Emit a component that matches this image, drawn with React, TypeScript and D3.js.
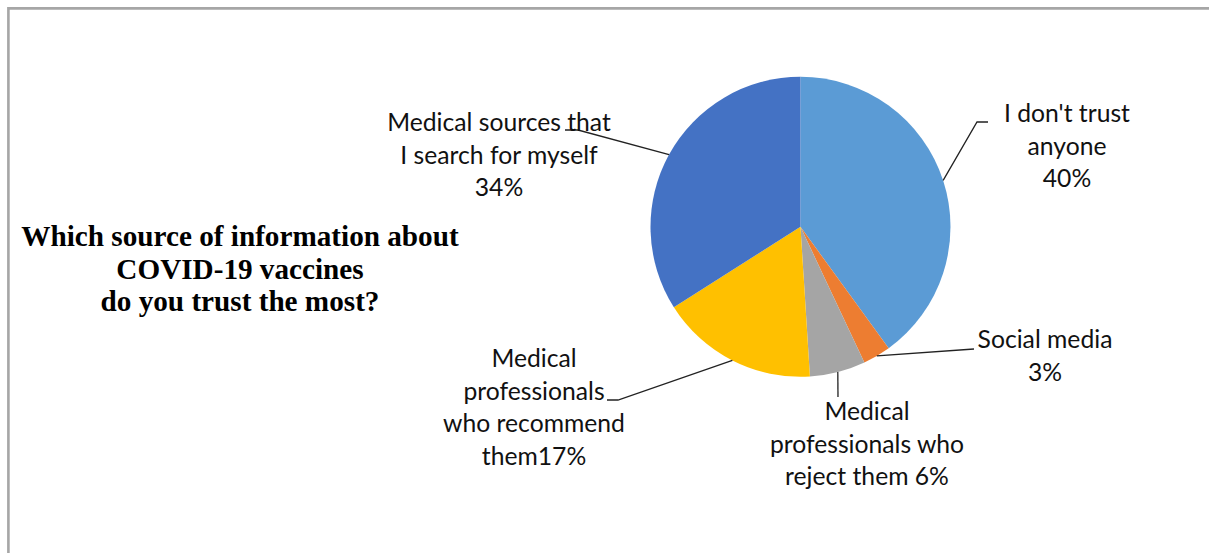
import React from "react";
import * as d3 from "d3";

const categories = [
  "I don't trust anyone",
  "Social media",
  "Medical professionals who reject them",
  "Medical professionals who recommend them",
  "Medical sources that I search for myself",
];
const values = [40, 3, 6, 17, 34];
const colors = ["#5B9BD5", "#ED7D31", "#A5A5A5", "#FFC000", "#4472C4"];
const labelLines = [
  ["I don't trust", "anyone", "40%"],
  ["Social media", "3%"],
  ["Medical", "professionals who", "reject them 6%"],
  ["Medical", "professionals", "who recommend", "them17%"],
  ["Medical sources that", "I search for myself", "34%"],
];
const titleLines = [
  "Which source of information about",
  "COVID-19 vaccines",
  "do you trust the most?",
];

// label layout (center x, first baseline y) and leader polylines as pixel anchors
const labelPos: [number, number][] = [
  [1067, 122],
  [1045, 348],
  [867, 420],
  [534, 367],
  [499, 131],
];
const leaderEnds: [number, number][][] = [
  [[977, 122], [988, 122]],
  [[974, 349]],
  [[838, 397]],
  [[618, 400], [607, 400]],
  [[578, 130], [565, 130]],
];

export default function App() {
  const W = 1209, H = 553;
  const cx = 800.5, cy = 226.8, r = 150;
  const pie = d3.pie<number>().sort(null).value((d) => d)(values);
  const arc = d3.arc<d3.PieArcDatum<number>>().innerRadius(0).outerRadius(r);
  const lineGen = d3.line();
  const fontLabel = "Lato, 'Open Sans', sans-serif";

  return (
    <svg
      width={W}
      height={H}
      style={{ position: "absolute", left: 0, top: 0, background: "#fff" }}
    >
      <rect x={0} y={0} width={W} height={H} fill="#fff" />
      <path d={`M8.4,${H} L8.4,8.4 L${W},8.4`} fill="none" stroke="#a6a6a6" strokeWidth={2.6} />
      <g transform={`translate(${cx},${cy})`}>
        {pie.map((p, i) => (
          <path key={categories[i]} d={arc(p) || ""} fill={colors[i]} stroke="none" />
        ))}
      </g>
      {pie.map((p, i) => {
        const mid = (p.startAngle + p.endAngle) / 2;
        const sx = cx + r * Math.sin(mid);
        const sy = cy - r * Math.cos(mid);
        const pts: [number, number][] = [[sx, sy], ...leaderEnds[i]];
        return (
          <path key={"l" + i} d={lineGen(pts) || ""} fill="none" stroke="#222" strokeWidth={1.3} />
        );
      })}
      {labelLines.map((lines, i) => (
        <text
          key={"t" + i}
          x={labelPos[i][0]}
          y={labelPos[i][1]}
          textAnchor="middle"
          fontFamily={fontLabel}
          fontSize={24.7}
          fill="#111"
        >
          {lines.map((ln, j) => (
            <tspan key={j} x={labelPos[i][0]} dy={j === 0 ? 0 : 32.5}>
              {ln}
            </tspan>
          ))}
        </text>
      ))}
      <text
        x={240}
        y={246}
        textAnchor="middle"
        fontFamily="'Liberation Serif', 'Times New Roman', serif"
        fontWeight="bold"
        fontSize={29.2}
        fill="#000"
      >
        {titleLines.map((ln, j) => (
          <tspan key={j} x={240} dy={j === 0 ? 0 : 32.5}>
            {ln}
          </tspan>
        ))}
      </text>
    </svg>
  );
}
